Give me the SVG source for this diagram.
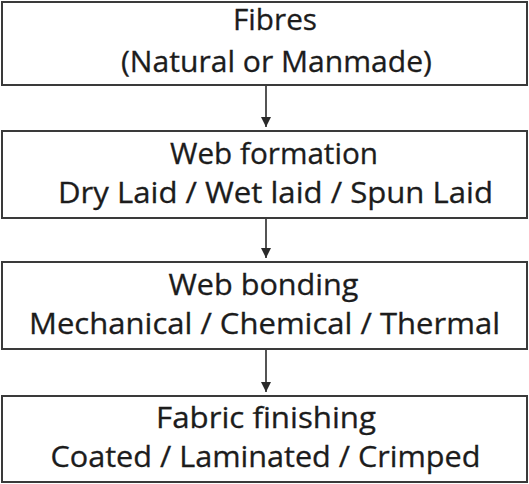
<svg xmlns="http://www.w3.org/2000/svg" width="529" height="484" viewBox="0 0 529 484">
  <style>
    .box { fill: #ffffff; stroke: #3a3a3a; stroke-width: 2; }
    .t { font-family: "Open Sans", "Noto Sans", "DejaVu Sans", sans-serif; font-size: 29px; fill: #1c1c1c; text-anchor: middle; stroke: #1c1c1c; stroke-width: 0.3; }
    .conn { stroke: #2a2a2a; stroke-width: 1.6; fill: none; }
  </style>
  <defs>
    <marker id="arr" markerUnits="userSpaceOnUse" markerWidth="10" markerHeight="11" refX="10" refY="5" orient="auto">
      <path d="M0,0 L10,5 L0,10 Z" fill="#2a2a2a"/>
    </marker>
  </defs>
  <rect width="529" height="484" fill="#ffffff"/>
  <g id="connectors">
    <line class="conn" x1="266" y1="85" x2="266" y2="127" marker-end="url(#arr)"/>
    <line class="conn" x1="266" y1="218" x2="266" y2="258" marker-end="url(#arr)"/>
    <line class="conn" x1="266" y1="349" x2="266" y2="392" marker-end="url(#arr)"/>
  </g>
  <g id="fibres">
    <rect class="box" x="2" y="2" width="525" height="83"/>
    <text class="t" x="275" y="30" textLength="84" lengthAdjust="spacingAndGlyphs">Fibres</text>
    <text class="t" x="276.5" y="71.5" textLength="311" lengthAdjust="spacingAndGlyphs">(Natural or Manmade)</text>
  </g>
  <g id="web-formation">
    <rect class="box" x="2" y="131" width="525" height="87"/>
    <text class="t" x="274" y="163.5" textLength="208" lengthAdjust="spacingAndGlyphs">Web formation</text>
    <text class="t" x="275.5" y="202.5" textLength="435" lengthAdjust="spacingAndGlyphs">Dry Laid / Wet laid / Spun Laid</text>
  </g>
  <g id="web-bonding">
    <rect class="box" x="2" y="262" width="525" height="87"/>
    <text class="t" x="263.5" y="294.5" textLength="190" lengthAdjust="spacingAndGlyphs">Web bonding</text>
    <text class="t" x="264.5" y="333.5" textLength="471" lengthAdjust="spacingAndGlyphs">Mechanical / Chemical / Thermal</text>
  </g>
  <g id="fabric-finishing">
    <rect class="box" x="2" y="396" width="525" height="86"/>
    <text class="t" x="266" y="427.5" textLength="220" lengthAdjust="spacingAndGlyphs">Fabric finishing</text>
    <text class="t" x="265.5" y="466.5" textLength="430" lengthAdjust="spacingAndGlyphs">Coated / Laminated / Crimped</text>
  </g>
</svg>
